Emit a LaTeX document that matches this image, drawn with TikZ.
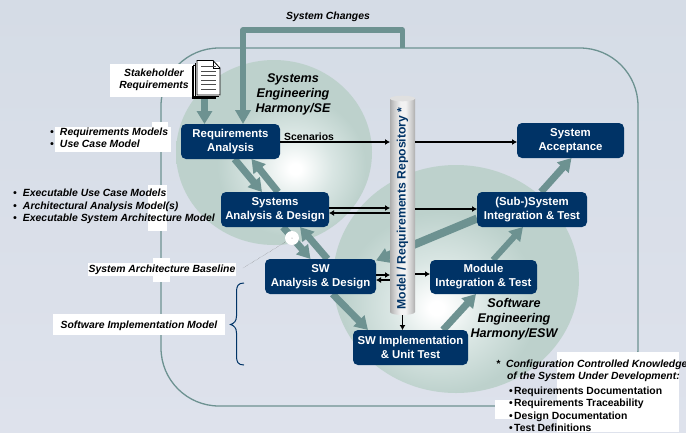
\documentclass[tikz,border=0pt]{standalone}
\usepackage{fontspec}
\setmainfont{Liberation Sans}
\usetikzlibrary{arrows.meta,calc,backgrounds}
\definecolor{navy}{HTML}{003366}
\definecolor{teal2}{HTML}{6D9291}
\definecolor{bgtop}{RGB}{213,220,230}
\definecolor{bgbot}{RGB}{222,226,236}
\pgfdeclareradialshading{ballse}{\pgfpoint{5.5bp}{-4.5bp}}{rgb(0bp)=(1,1,1); rgb(1.5bp)=(1,1,1); rgb(10bp)=(0.85,0.90,0.89); rgb(19bp)=(0.74,0.82,0.80); rgb(100bp)=(0.74,0.82,0.80)}
\pgfdeclareradialshading{ballesw}{\pgfpoint{-4bp}{-6.5bp}}{rgb(0bp)=(1,1,1); rgb(1.5bp)=(1,1,1); rgb(10bp)=(0.85,0.90,0.89); rgb(20bp)=(0.74,0.82,0.80); rgb(100bp)=(0.74,0.82,0.80)}
\pgfdeclarehorizontalshading{cyl}{100bp}{rgb(0bp)=(0.68,0.68,0.68); rgb(25bp)=(0.68,0.68,0.68); rgb(33bp)=(0.80,0.80,0.80); rgb(46bp)=(0.95,0.95,0.95); rgb(56bp)=(0.95,0.95,0.95); rgb(68bp)=(0.80,0.80,0.80); rgb(75bp)=(0.68,0.68,0.68); rgb(100bp)=(0.68,0.68,0.68)}
\pgfdeclarelayer{bglayer}
\pgfdeclarelayer{arrowlayer}
\pgfsetlayers{bglayer,arrowlayer,main}
\tikzset{
  stagebox/.style={fill=navy,text=white,rounded corners=5pt,inner sep=0pt,outer sep=0pt,align=center,
    font=\fontsize{11.4}{14}\selectfont\bfseries},
  flow/.style={draw=teal2,line width=7pt,-{Triangle[width=15pt,length=13pt]}},
  msg/.style={draw=black,line width=1.8pt,-{Latex[length=5pt,width=6pt]}},
  note/.style={inner sep=0pt,outer sep=0pt,font=\fontsize{10.4}{12.4}\selectfont\bfseries\itshape,align=left},
  title/.style={inner sep=0pt,align=center,font=\fontsize{12.6}{15}\selectfont\bfseries\itshape},
  plain/.style={inner sep=0pt,anchor=west,font=\fontsize{10.4}{12}\selectfont\bfseries},
  patch/.style={fill=white,draw=none}
}
\newcommand{\bul}{\makebox[10pt][l]{\textbullet}}
\begin{document}
\begin{tikzpicture}[x=1pt,y=-1pt]
\useasboundingbox (0,0) rectangle (686,432);
\clip (0,0) rectangle (686,432);
% boxes
\node[stagebox,minimum width=99pt,minimum height=35pt] (req) at (230.5,141.5) {Requirements\\Analysis};
\node[stagebox,minimum width=108pt,minimum height=35pt] (sys) at (275,209.5) {Systems\\Analysis \& Design};
\node[stagebox,minimum width=111pt,minimum height=35pt] (sw) at (320.5,276.5) {SW\\Analysis \& Design};
\node[stagebox,minimum width=107pt,minimum height=34pt] (mod) at (483.5,277) {Module\\Integration \& Test};
\node[stagebox,minimum width=115pt,minimum height=35pt] (impl) at (410.5,347.5) {SW Implementation\\\& Unit Test};
\node[stagebox,minimum width=110pt,minimum height=35pt] (sub) at (532,209.5) {(Sub-)System\\Integration \& Test};
\node[stagebox,minimum width=107pt,minimum height=35pt] (acc) at (570.5,140.5) {System\\Acceptance};
% repository
\shade[shading=cyl] (390,98.5) -- (390,312) arc[start angle=180,end angle=360,x radius=12.5pt,y radius=3pt] -- (415,98.5) -- cycle;
\fill[black!12] (402.5,98.5) ellipse[x radius=12.5pt,y radius=2.8pt];
\node[inner sep=0pt,outer sep=0pt,minimum width=25pt,minimum height=219pt] (repo) at (402.5,205.5) {};
\node[rotate=90,inner sep=0pt,text=navy,font=\fontsize{12.2}{14}\selectfont\bfseries] (repolabel) at (402.5,208.5) {Model / Requirements Repository *};
\begin{pgfonlayer}{bglayer}
  \fill[top color=bgtop,bottom color=bgbot] (0,0) rectangle (686,432);
  \shade[shading=ballse] (274,152.5) ellipse[x radius=98pt,y radius=92.5pt];
  \shade[shading=ballesw] (456,279) ellipse[x radius=123pt,y radius=114pt];
  \draw[teal2,line width=1.3pt] (161,106) arc[start angle=180,end angle=90,radius=58pt] -- (580,48) arc[start angle=90,end angle=0,radius=58pt] -- (638,348) arc[start angle=0,end angle=-90,radius=58pt] -- (219,406) arc[start angle=270,end angle=180,radius=58pt] -- cycle;
  % white patches
  \fill[patch] (55,127) rectangle (171,152);
  \fill[patch] (152,122) rectangle (168,130);
  \fill[patch] (148,185) rectangle (167,231);
  \fill[patch] (88,263) rectangle (236,276);
  \fill[patch] (153,258) rectangle (170,282);
  \fill[patch] (53,314) rectangle (225,335);
  \fill[patch] (557,352) rectangle (679,432);
  \fill[patch] (495,400) rectangle (557,419);
  \fill[patch] (110,64) rectangle (193,97);
\end{pgfonlayer}
\begin{pgfonlayer}{arrowlayer}
  \coordinate (chg) at (402.5,48);
  \coordinate (doc) at (204.5,99);
  \draw[teal2,line width=5.3pt,-{Triangle[width=15pt,length=14pt]},line join=round] (chg) -- (402.5,30) -- (243,30) -- ([xshift=12.5pt]req.north);
  \draw[teal2,line width=7pt,-{Triangle[width=15pt,length=13pt]}] (doc) -- ([xshift=-26pt]req.north);
  \draw[flow] ([xshift=4pt]req.south) -- ([xshift=-13pt]sys.north);
  \draw[flow] ([xshift=3pt]sys.north) -- ([xshift=21pt]req.south);
  \draw[flow] ([xshift=8pt]sys.south) -- ([xshift=-10pt]sw.north);
  \draw[flow] ([xshift=7pt]sw.north) -- ([xshift=25pt]sys.south);
  \draw[flow] ([xshift=12pt]sw.south) -- ([xshift=-42.5pt]impl.north);
  \draw[flow] ([xshift=32.5pt]impl.north) -- ([xshift=-7.5pt]mod.south);
  \draw[flow,line width=6pt] ([xshift=9.5pt]mod.north) -- ([xshift=-9pt]sub.south);
  \draw[flow] ([xshift=9pt]sub.north) -- ([xshift=1pt]acc.south);
  \draw[flow,line width=8pt] ([yshift=-9pt]sub.west) -- ([yshift=16pt]sw.east);
  % baseline marker
  \draw[black!55,line width=0.4pt,densely dotted] (292,238) -- (243,268);
\end{pgfonlayer}
\fill[white] (292,238) circle[radius=7pt];
\fill[black!50] (292,238) circle[radius=0.5pt];
% information flows
\draw[msg] ([yshift=-0.5pt]req.east) -- ([yshift=-0.5pt]repo.west|-req.east);
\draw[msg] ([yshift=-0.5pt]repo.east|-req.east) -- ([yshift=-1.5pt]acc.west);
\draw[msg] ([yshift=1.5pt]sys.east) -- ([yshift=1.5pt]repo.west|-sys.east);
\draw[msg] ([yshift=-3.5pt]repo.west|-sys.east) -- ([yshift=-3.5pt]sys.east);
\draw[msg] ([yshift=0.5pt]repo.east|-sub.west) -- ([yshift=0.5pt]sub.west);
\draw[msg] ([yshift=1.5pt]sw.east) -- ([yshift=1.5pt]repo.west|-sw.east);
\draw[msg] ([yshift=-3.5pt]repo.west|-sw.east) -- ([yshift=-3.5pt]sw.east);
\draw[msg] ([yshift=3pt]repo.east|-mod.west) -- ([yshift=3pt]mod.west);
\draw[msg] (repo.south) -- (repo.south|-impl.north);
% document icon
\fill[black] (192,66) rectangle (216,99);
\fill[white] (193.2,65) rectangle (217,96.5);
\draw[black,line width=0.7pt] (193.2,65) rectangle (217,96.5);
\fill[black] (195,63) rectangle (219,97);
\fill[white] (196,62) rectangle (219.5,95.5);
\draw[black,line width=0.8pt,fill=white] (197,60.5) -- (213,60.5) -- (220,68) -- (220,95) -- (197,95) -- cycle;
\draw[black,line width=0.6pt] (213,60.5) -- (213,68) -- (220,68);
\foreach \yy in {66,71,75.5,80,84.5,89}{\draw[black!70,line width=0.8pt] (201,\yy) -- (216,\yy);}
% texts
\node[note,align=center] (stake) at (154,80) {Stakeholder\\Requirements};
\node[title] (se) at (293,94) {Systems\\Engineering\\Harmony/SE};
\node[title] (esw) at (514,319) {Software\\Engineering\\Harmony/ESW};
\node[note] (chgl) at (328,16.5) {System Changes};
\node[plain] (scen) at (284,136.5) {Scenarios};
\node[note,anchor=west] (reqm) at (50,138) {\bul Requirements Models\\\bul Use Case Model};
\node[note,anchor=west] (execm) at (13,206.5) {\bul Executable Use Case Models\\\bul Architectural Analysis Model(s)\\\bul Executable System Architecture Model};
\node[note] (base) at (162,269.5) {System Architecture Baseline};
\node[note] (swm) at (139,326) {Software Implementation Model};
\node[note,anchor=north west] (star) at (496,360) {*};
\node[note,anchor=west] (cfg) at (506,371) {Configuration Controlled Knowledge\\\hspace{1pt}of the System Under Development:};
\node[plain] at (509,392) {\makebox[5pt][l]{\textbullet}Requirements Documentation};
\node[plain] at (509,404) {\makebox[5pt][l]{\textbullet}Requirements Traceability};
\node[plain] at (509,417) {\makebox[5pt][l]{\textbullet}Design Documentation};
\node[plain] at (509,428) {\makebox[5pt][l]{\textbullet}Test Definitions};
% brace
\draw[navy,line width=1pt] (244,283) .. controls (238,283) and (236.5,286) .. (236.5,292) -- (236.5,316) .. controls (236.5,321) and (234,323.5) .. (230.5,324.5) .. controls (234,325.5) and (236.5,328) .. (236.5,333) -- (236.5,356) .. controls (236.5,362) and (238,365) .. (244,365);
\end{tikzpicture}
\end{document}
